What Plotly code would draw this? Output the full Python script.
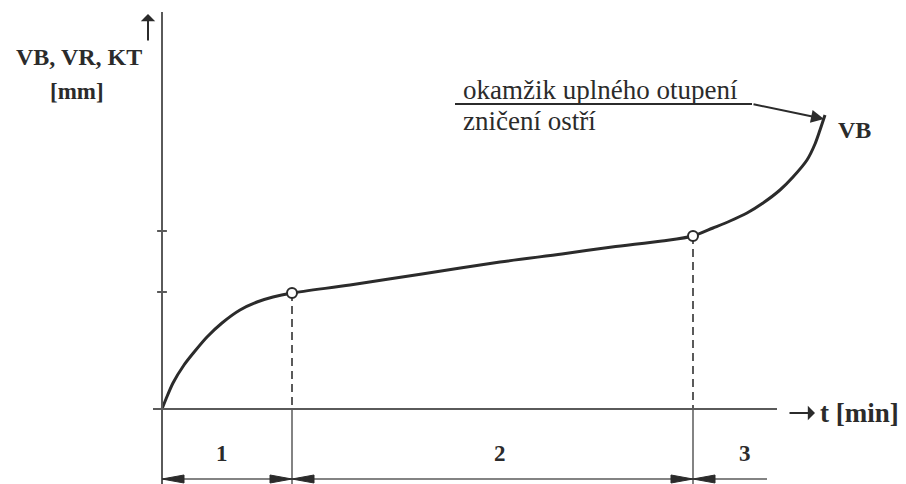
import plotly.graph_objects as go

# Wear curve VB(t): run-in (1), steady wear (2), accelerated wear (3)
t_curve = [0, 4, 11, 22, 33, 45, 60, 78, 95, 111, 130,
           188, 260, 338, 400, 450, 500, 531,
           551, 568, 585, 601, 618, 631, 645, 653, 658, 663]
vb_curve = [0, 10, 26, 44, 58, 72, 86, 99, 107, 112, 116,
            124, 135, 147, 155, 162, 168, 173,
            181, 188, 196, 206, 219, 232, 249, 265, 279, 294]

# Phase boundaries (transition points on the curve)
t_points = [130, 531]
vb_points = [116, 173]

# Marks on the vertical axis
y_ticks = [117, 178]

# Phase labels and their horizontal positions
phase_labels = ["1", "2", "3"]
phase_label_t = [60, 338, 583]
t_end_dim = 605  # right end of the phase-3 dimension line

# Axis extents (data units)
X_MIN, X_MAX = -162, 744
Y_MIN, Y_MAX = -75, 409
x_axis_from, x_axis_to = -9, 615
y_axis_top = 397
dim_y = -70
label_y = -44

INK = "#2b2b2b"
AXIS = "#5a5a5a"
SERIF = "Liberation Serif, Times New Roman, serif"

fig = go.Figure()

# axes
fig.add_shape(type="line", x0=x_axis_from, x1=x_axis_to, y0=0, y1=0,
              line=dict(color=AXIS, width=2))
fig.add_shape(type="line", x0=0, x1=0, y0=Y_MIN, y1=y_axis_top,
              line=dict(color=AXIS, width=2))

# tick marks on the vertical axis
fig.add_trace(go.Scatter(x=[0] * len(y_ticks), y=y_ticks, mode="markers",
                         marker=dict(symbol="line-ew", size=7,
                                     line=dict(color=AXIS, width=2)),
                         hoverinfo="skip", showlegend=False))

# dashed drop lines from transition points, solid extension below the axis
for tp, vp in zip(t_points, vb_points):
    fig.add_trace(go.Scatter(x=[tp, tp], y=[vp, 0], mode="lines",
                             line=dict(color=AXIS, width=2, dash="8px,5px"),
                             hoverinfo="skip", showlegend=False))
    fig.add_trace(go.Scatter(x=[tp, tp], y=[0, Y_MIN], mode="lines",
                             line=dict(color=AXIS, width=1.5),
                             hoverinfo="skip", showlegend=False))

# wear curve
fig.add_trace(go.Scatter(x=t_curve, y=vb_curve, mode="lines",
                         line=dict(color=INK, width=3, shape="spline", smoothing=0.8),
                         hoverinfo="skip", showlegend=False))

# transition points
fig.add_trace(go.Scatter(x=t_points, y=vb_points, mode="markers",
                         marker=dict(symbol="circle", size=10, color="white",
                                     line=dict(color=INK, width=2)),
                         hoverinfo="skip", showlegend=False))

# dimension line below the axis with arrowheads at the phase limits
fig.add_shape(type="line", x0=0, x1=t_end_dim, y0=dim_y, y1=dim_y,
              line=dict(color=AXIS, width=1.5))


def head(tip, direction):
    """Narrow filled arrowhead on the dimension line; direction +1 points right."""
    L, W = 22, 4
    base = tip - direction * L
    return (f"M {tip},{dim_y} L {base},{dim_y + W} "
            f"L {base},{dim_y - W} Z")


bounds = [0] + t_points
paths = []
for a, b in zip(bounds[:-1], bounds[1:]):
    paths.append(head(a, -1))
    paths.append(head(b, 1))
paths.append(head(bounds[-1], -1))
for p in paths:
    fig.add_shape(type="path", path=p, fillcolor=INK,
                  line=dict(color=INK, width=1))

for lab, tx in zip(phase_labels, phase_label_t):
    fig.add_annotation(x=tx, y=label_y, text=f"<b>{lab}</b>", showarrow=False,
                       font=dict(family=SERIF, size=23, color=INK))

# axis titles
fig.add_annotation(x=-83, y=352, text="<b>VB, VR, KT</b>", showarrow=False,
                   font=dict(family=SERIF, size=24, color=INK))
fig.add_annotation(x=-85, y=318, text="<b>[mm]</b>", showarrow=False,
                   font=dict(family=SERIF, size=23, color=INK))
# arrow beside the vertical axis title
fig.add_annotation(x=-14, y=395, ax=-14, ay=367, axref="x", ayref="y",
                   text="", showarrow=True, arrowhead=1, arrowsize=1.2,
                   arrowwidth=2, arrowcolor=INK)
# arrow and title of the time axis
fig.add_annotation(x=653, y=-4, ax=626, ay=-4, axref="x", ayref="y",
                   text="", showarrow=True, arrowhead=1, arrowsize=1.2,
                   arrowwidth=2, arrowcolor=INK)
fig.add_annotation(x=656, y=-4, text="<b>t [min]</b>", showarrow=False,
                   xanchor="left", font=dict(family=SERIF, size=27, color=INK))

# curve label
fig.add_annotation(x=t_curve[-1] + 11, y=vb_curve[-1] - 15, text="<b>VB</b>",
                   showarrow=False, xanchor="left",
                   font=dict(family=SERIF, size=24, color=INK))

# leader: note about complete dulling / destruction of the cutting edge
note_y = 305
fig.add_annotation(x=299, y=note_y + 14, text="okamžik uplného otupení",
                   showarrow=False, xanchor="left",
                   font=dict(family=SERIF, size=27, color=INK))
fig.add_annotation(x=299, y=note_y - 17, text="zničení ostří",
                   showarrow=False, xanchor="left",
                   font=dict(family=SERIF, size=27, color=INK))
fig.add_shape(type="line", x0=293, x1=590, y0=note_y, y1=note_y,
              line=dict(color=INK, width=2))
fig.add_annotation(x=t_curve[-1] - 1, y=vb_curve[-1] - 4, ax=590, ay=note_y,
                   axref="x", ayref="y", xref="x", yref="y", text="",
                   showarrow=True, arrowhead=2, arrowsize=1.3, arrowwidth=2,
                   arrowcolor=INK)

fig.update_layout(
    width=906, height=484,
    margin=dict(l=0, r=0, t=0, b=0),
    paper_bgcolor="white", plot_bgcolor="white",
    xaxis=dict(range=[X_MIN, X_MAX], visible=False, fixedrange=True),
    yaxis=dict(range=[Y_MIN, Y_MAX], visible=False, fixedrange=True),
    showlegend=False,
)

fig.write_html("out.html")
